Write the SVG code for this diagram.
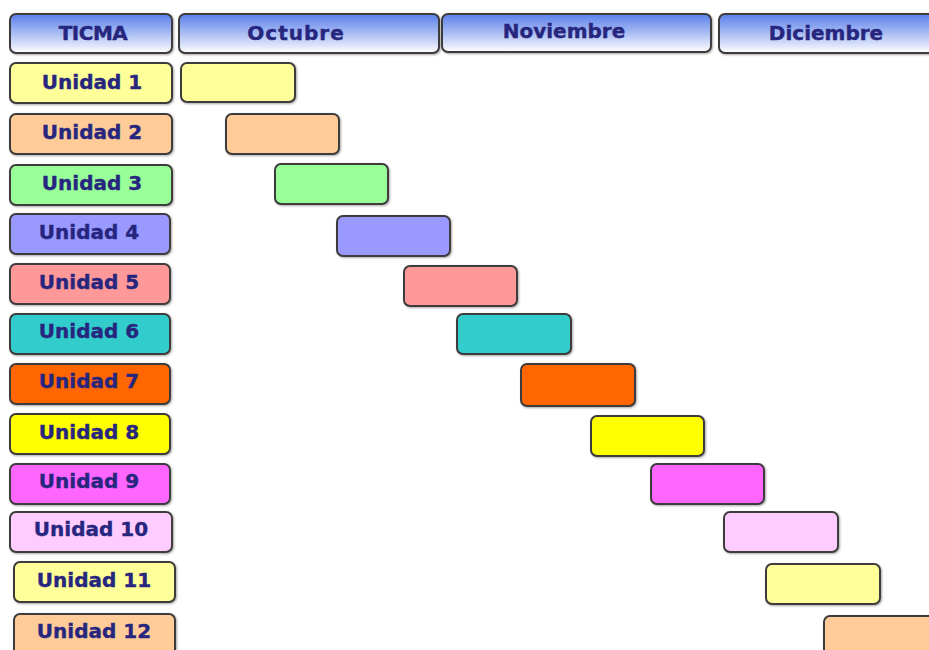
<svg xmlns="http://www.w3.org/2000/svg" width="929" height="650" viewBox="0 0 929 650">
<defs>
<linearGradient id="hg" x1="0" y1="0" x2="0" y2="1">
<stop offset="0" stop-color="#5a80ea"/>
<stop offset="0.5" stop-color="#a9bcf3"/>
<stop offset="1" stop-color="#ffffff"/>
</linearGradient>
<filter id="sh" x="-10%" y="-20%" width="120%" height="140%">
<feGaussianBlur in="SourceAlpha" stdDeviation="1"/>
<feOffset dx="1" dy="1" result="o"/>
<feComponentTransfer><feFuncA type="linear" slope="0.35"/></feComponentTransfer>
<feMerge><feMergeNode/><feMergeNode in="SourceGraphic"/></feMerge>
</filter>
</defs>
<style>
rect{stroke:#3d3a3a;stroke-width:2;filter:url(#sh)}
.h{fill:url(#hg)}
text{font-family:"DejaVu Sans","Liberation Sans",sans-serif;font-weight:bold;font-size:20px;fill:#27267f;text-anchor:middle;stroke:#27267f;stroke-width:0.4}
</style>
<rect width="929" height="650" fill="#fff" style="stroke:none;filter:none"/>
<g id="header">
<g id="h-ticma"><rect class="h" x="10" y="14" width="162" height="39" rx="6"/><text x="93" y="40" letter-spacing="-0.5">TICMA</text></g>
<g id="h-octubre"><rect class="h" x="179" y="14" width="260" height="39" rx="6"/><text x="296" y="40" letter-spacing="1">Octubre</text></g>
<g id="h-noviembre"><rect class="h" x="442" y="14" width="269" height="38" rx="6"/><text x="564" y="38">Noviembre</text></g>
<g id="h-diciembre"><rect class="h" x="719" y="14" width="220" height="39" rx="6"/><text x="826" y="40">Diciembre</text></g>
</g>
<g id="u1"><rect x="10" y="63" width="162" height="40" rx="6" fill="#ffff99"/><text x="92" y="89">Unidad 1</text><rect x="181" y="63" width="114" height="39" rx="6" fill="#ffff99"/></g>
<g id="u2"><rect x="10" y="114" width="162" height="40" rx="6" fill="#ffcc99"/><text x="92" y="139">Unidad 2</text><rect x="226" y="114" width="113" height="40" rx="6" fill="#ffcc99"/></g>
<g id="u3"><rect x="10" y="165" width="162" height="40" rx="6" fill="#99ff99"/><text x="92" y="190">Unidad 3</text><rect x="275" y="164" width="113" height="40" rx="6" fill="#99ff99"/></g>
<g id="u4"><rect x="10" y="214" width="160" height="40" rx="6" fill="#9999ff"/><text x="89" y="239">Unidad 4</text><rect x="337" y="216" width="113" height="40" rx="6" fill="#9999ff"/></g>
<g id="u5"><rect x="10" y="264" width="160" height="40" rx="6" fill="#ff9999"/><text x="89" y="289">Unidad 5</text><rect x="404" y="266" width="113" height="40" rx="6" fill="#ff9999"/></g>
<g id="u6"><rect x="10" y="314" width="160" height="40" rx="6" fill="#33cccc"/><text x="89" y="338">Unidad 6</text><rect x="457" y="314" width="114" height="40" rx="6" fill="#33cccc"/></g>
<g id="u7"><rect x="10" y="364" width="160" height="40" rx="6" fill="#ff6600"/><text x="89" y="388">Unidad 7</text><rect x="521" y="364" width="114" height="42" rx="6" fill="#ff6600"/></g>
<g id="u8"><rect x="10" y="414" width="160" height="40" rx="6" fill="#ffff00"/><text x="89" y="439">Unidad 8</text><rect x="591" y="416" width="113" height="40" rx="6" fill="#ffff00"/></g>
<g id="u9"><rect x="10" y="464" width="160" height="40" rx="6" fill="#ff66ff"/><text x="89" y="488">Unidad 9</text><rect x="651" y="464" width="113" height="40" rx="6" fill="#ff66ff"/></g>
<g id="u10"><rect x="10" y="512" width="162" height="40" rx="6" fill="#ffccff"/><text x="91" y="536">Unidad 10</text><rect x="724" y="512" width="114" height="40" rx="6" fill="#ffccff"/></g>
<g id="u11"><rect x="14" y="562" width="161" height="40" rx="6" fill="#ffff99"/><text x="94" y="587">Unidad 11</text><rect x="766" y="564" width="114" height="40" rx="6" fill="#ffff99"/></g>
<g id="u12"><rect x="14" y="614" width="161" height="42" rx="6" fill="#ffcc99"/><text x="94" y="638">Unidad 12</text><rect x="824" y="616" width="120" height="42" rx="6" fill="#ffcc99"/></g>
<g id="connectors"/>
</svg>
